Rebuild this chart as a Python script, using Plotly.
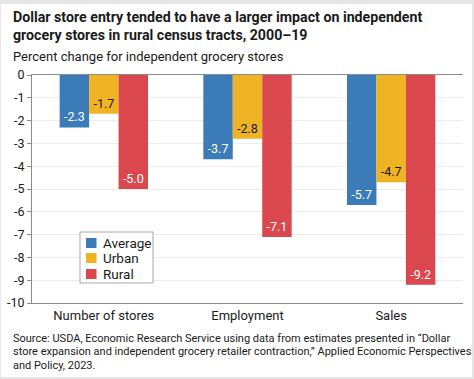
import plotly.graph_objects as go

categories = ["Number of stores", "Employment", "Sales"]
average = [-2.3, -3.7, -5.7]
urban = [-1.7, -2.8, -4.7]
rural = [-5.0, -7.1, -9.2]
series_names = ["Average", "Urban", "Rural"]
colors = ["#3b7bb7", "#f0b323", "#da474c"]
text_colors = ["white", "#1a1a1a", "white"]
y_ticks = list(range(0, -11, -1))

W, H = 474, 379
L, R, T, B = 32, 11, 75, 76
PW, PH = W - L - R, H - T - B

def px(x):
    return (x - L) / PW

def py(y):
    return (H - B - y) / PH

FONT = "Roboto, Liberation Sans, Arial, sans-serif"
TXT = "#1a1a1a"

fig = go.Figure()
for name, vals, c, tc in zip(series_names, [average, urban, rural], colors, text_colors):
    fig.add_trace(go.Bar(
        name=name, x=categories, y=vals, marker_color=c, marker_line_width=0,
        text=[f"{v:.1f}" for v in vals], textposition="inside", insidetextanchor="end",
        textfont=dict(color=tc, size=12.5, family=FONT), textangle=0,
        showlegend=False,
    ))

shapes = [dict(
    type="rect", xref="paper", yref="paper", layer="below",
    x0=px(1), x1=px(472), y0=py(377), y1=py(4),
    fillcolor="white", line_width=0,
)]
# custom legend box
shapes.append(dict(
    type="rect", xref="paper", yref="paper", layer="above",
    x0=px(80), x1=px(153), y0=py(283), y1=py(232),
    fillcolor="white", line=dict(color="#a8a8a8", width=1),
))
legend_y = [243, 258, 274]
annotations = []
for name, c, yc in zip(series_names, colors, legend_y):
    shapes.append(dict(
        type="rect", xref="paper", yref="paper", layer="above",
        x0=px(86), x1=px(96.5), y0=py(yc + 5), y1=py(yc - 5),
        fillcolor=c, line_width=0,
    ))
    annotations.append(dict(
        text=name, xref="paper", yref="paper", x=px(101), y=py(yc),
        xanchor="left", yanchor="middle", showarrow=False,
        font=dict(size=13.5, family=FONT, color=TXT),
    ))

fig.update_layout(
    width=W, height=H,
    margin=dict(l=L, r=R, t=T, b=B, autoexpand=False),
    paper_bgcolor="#e6e6e6",
    plot_bgcolor="white",
    barmode="group", bargap=0.385, bargroupgap=0,
    font=dict(family=FONT, color=TXT),
    showlegend=False,
    xaxis=dict(
        automargin=False,
        showline=True, linecolor="#8c8c8c", linewidth=1, mirror=True,
        ticks="", tickfont=dict(size=13, family=FONT, color=TXT),
        showgrid=False,
    ),
    yaxis=dict(
        automargin=False,
        range=[-10, 0], tickvals=y_ticks, ticktext=[str(v) for v in y_ticks],
        showline=True, linecolor="#8c8c8c", linewidth=1,
        ticks="outside", ticklen=4, tickcolor="#8c8c8c",
        gridcolor="#ececec", gridwidth=1, zeroline=False,
        tickfont=dict(size=12.5, family=FONT, color=TXT),
    ),
    shapes=shapes,
)

anns = [
    dict(text="<b>Dollar store entry tended to have a larger impact on independent</b>", y=16.5, size=14.2),
    dict(text="<b>grocery stores in rural census tracts, 2000–19</b>", y=35.5, size=14.2),
    dict(text="Percent change for independent grocery stores", y=57, size=13),
    dict(text="Source: USDA, Economic Research Service using data from estimates presented in “Dollar", y=338, size=11),
    dict(text="store expansion and independent grocery retailer contraction,” Applied Economic Perspectives", y=351.5, size=11),
    dict(text="and Policy, 2023.", y=365, size=11),
]
for a in anns:
    annotations.append(dict(
        text=a["text"], xref="paper", yref="paper", x=px(11), y=py(a["y"]),
        xanchor="left", yanchor="middle", showarrow=False, align="left",
        font=dict(size=a["size"], family=FONT, color=TXT),
    ))
fig.update_layout(annotations=annotations)

fig.write_html(
    "out.html",
    config={"displayModeBar": False},
    post_script="document.body.style.margin='0';document.body.style.overflow='hidden';",
)
